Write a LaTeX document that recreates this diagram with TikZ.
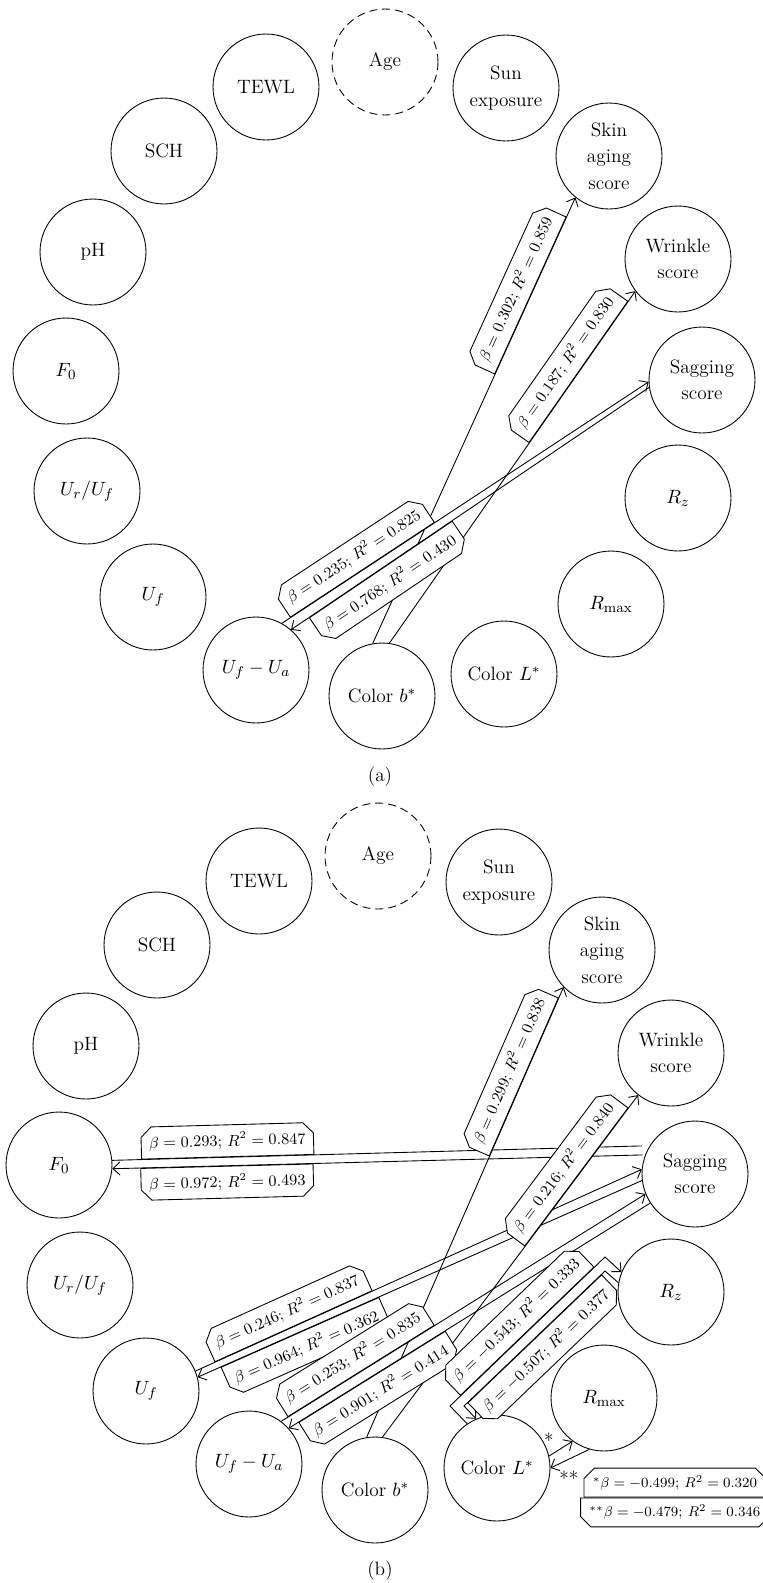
\documentclass[tikz,border=0pt]{standalone}
\usetikzlibrary{shapes.misc,arrows.meta,positioning,calc}

\begin{document}
\begin{tikzpicture}[
    x=0.02cm, y=-0.02cm,
    varnode/.style={
        circle, draw, line width=0.5pt,
        minimum size=2.12cm, inner sep=0pt,
        align=center,
        font=\fontsize{11}{15}\selectfont
    },
    agenode/.style={varnode, dash pattern=on 1.6mm off 1mm},
    arr/.style={-{Straight Barb[length=1.4mm,width=2.6mm]}, line width=0.5pt},
    link/.style={line width=0.5pt},
    coef/.style={
        chamfered rectangle, draw, fill=white, line width=0.5pt,
        chamfered rectangle xsep=3pt,
        inner xsep=1.5pt, inner ysep=1.5pt,
        font=\fontsize{8.6}{10}\selectfont, sloped
    },
    coefup/.style={coef, above, chamfered rectangle corners={north west,north east}},
    coefdn/.style={coef, below, chamfered rectangle corners={south west,south east}},
    keybox/.style={
        chamfered rectangle, draw, fill=white, line width=0.5pt,
        chamfered rectangle xsep=3pt,
        minimum width=3.3cm, inner xsep=2pt, inner ysep=1.2pt,
        font=\fontsize{8.5}{10}\selectfont
    },
    lbl/.style={font=\fontsize{11}{13}\selectfont},
]
\useasboundingbox (0,0) rectangle (762,1583);

% variables, same ring in both panels
\foreach \p/\dx/\dy in {a/0/0, b/-7/794}{
  \begin{scope}[shift={(\dx,\dy)}]
    \node[agenode] (\p-age) at (385,62) {Age};
    \foreach \n/\x/\y/\t in {
        tewl/266/87/TEWL,
        sun/506/88/Sun\\exposure,
        skin/609/156/Skin\\aging\\score,
        wrin/678/259/Wrinkle\\score,
        sag/702/380/Sagging\\score,
        rz/678/498/{$R_z$},
        rmax/611/604/{$R_{\mathrm{max}}$},
        colL/504/674/{Color $L^*$},
        colb/382/696/{Color $b^*$},
        ufua/256/670/{$U_f - U_a$},
        uf/153/597/{$U_f$},
        uruf/87/491/{$U_r/U_f$},
        f0/66/371/{$F_0$},
        ph/93/252/pH,
        sch/164/151/SCH}
      \node[varnode] (\p-\n) at (\x,\y) {\t};
  \end{scope}
}

\node[lbl] (a-cap) at (380,777) {(a)};
\node[lbl] (b-cap) at (380,1571) {(b)};

% panel (a)
\draw[arr] (a-colb.100) -- node[coefup, pos=0.78] {$\beta = 0.302$; $R^2 = 0.859$} (a-skin.231);
\draw[arr] (a-colb.82) -- node[coefup, pos=0.77] {$\beta = 0.187$; $R^2 = 0.830$} (a-wrin.217);
\draw[arr] (a-ufua.61) -- node[coefup, pos=0.22] {$\beta = 0.235$; $R^2 = 0.825$} (a-sag.182);
\draw[arr] (a-sag.188) -- node[coefdn, pos=0.75] {$\beta = 0.768$; $R^2 = 0.430$} (a-ufua.49);

% panel (b): F0 and Uf pairs
\draw[link, shorten >=0.16cm] (b-f0.5) -- node[coefup, pos=0.215] {$\beta = 0.293$; $R^2 = 0.847$} (b-sag.148);
\draw[arr, shorten <=0.05cm] (b-sag.159) -- node[coefdn, pos=0.785] {$\beta = 0.972$; $R^2 = 0.493$} (b-f0.356);
\draw[arr] (b-uf.22) -- node[coefup, pos=0.22] {$\beta = 0.246$; $R^2 = 0.837$} (b-sag.175);
\draw[arr] (b-sag.187) -- node[coefdn, pos=0.77] {$\beta = 0.964$; $R^2 = 0.362$} (b-uf.15);

% colour b* to skin aging and wrinkle
\draw[arr] (b-colb.99) -- node[coefup, pos=0.80] {$\beta = 0.299$; $R^2 = 0.838$} (b-skin.224);
\draw[arr] (b-colb.82) -- node[coefup, pos=0.76] {$\beta = 0.216$; $R^2 = 0.840$} (b-wrin.232);

% Uf - Ua pair
\draw[arr] (b-ufua.53) -- node[coefup, pos=0.22] {$\beta = 0.253$; $R^2 = 0.835$} (b-sag.202);
\draw[arr] (b-sag.213) -- node[coefdn, pos=0.77] {$\beta = 0.901$; $R^2 = 0.414$} (b-ufua.42);

% colour L* and Rz, bent
\draw[arr] (b-colL.124) -- ($(b-colL)+(-47,-62)$)
    -- node[coefup] {$\beta = -0.543$; $R^2 = 0.333$} ($(b-rz)+(-66,-35)$) -- (b-rz.158);
\draw[arr] (b-rz.170) -- ($(b-rz)+(-66,-21)$)
    -- node[coefdn] {$\beta = -0.507$; $R^2 = 0.377$} ($(b-colL)+(-33,-62)$) -- (b-colL.113);

% colour L* and Rmax
\draw[arr] (b-colL.13) -- node[lbl, pos=0.35, above left=-2pt] {*} (b-rmax.234);
\draw[arr] (b-rmax.254) -- node[lbl, pos=0.9, below right=-1pt] {**} (b-colL.0);

\node[keybox, chamfered rectangle corners={north west,north east}, anchor=north east] (b-key1) at (761,1473)
    {$^{*}\beta = -0.499$; $R^2 = 0.320$};
\node[keybox, chamfered rectangle corners={south west,south east}, below=0pt of b-key1] (b-key2)
    {$^{**}\beta = -0.479$; $R^2 = 0.346$};

\end{tikzpicture}
\end{document}
